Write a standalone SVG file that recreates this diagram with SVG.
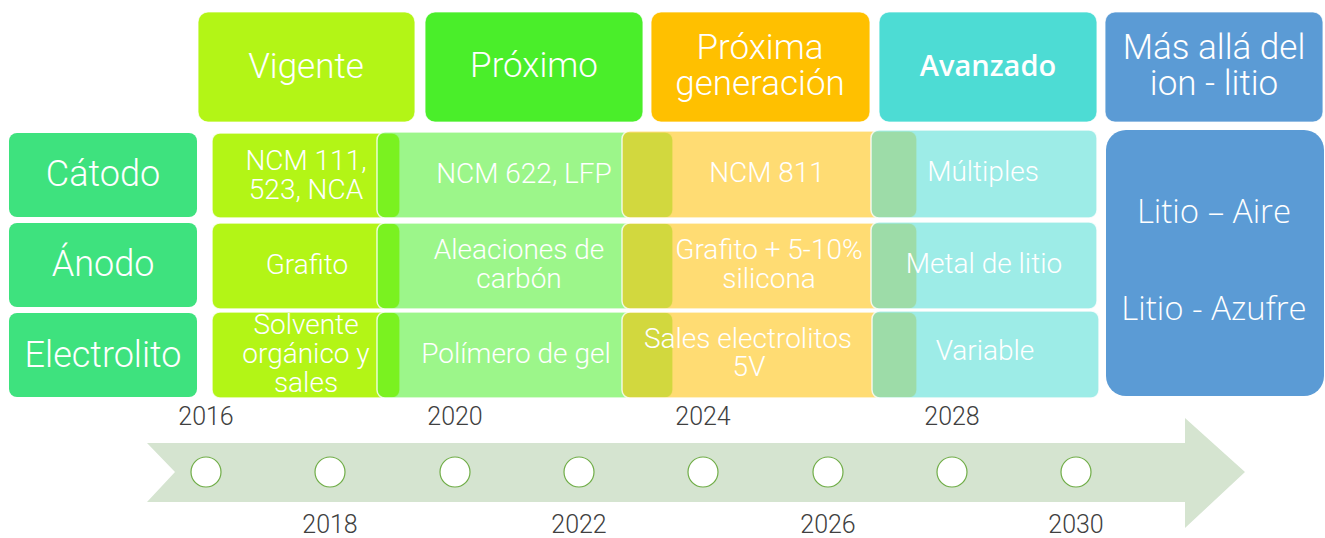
<svg xmlns="http://www.w3.org/2000/svg" width="1325" height="538" viewBox="0 0 1325 538">
<style>
.hdr{stroke:#ffffff;stroke-opacity:0.7;stroke-width:1.2}
.ht{font-family:Roboto,sans-serif;font-weight:300;font-size:35px;fill:#ffffff;text-anchor:middle}
.hb{font-family:"Open Sans",sans-serif;font-weight:600;font-size:29px;fill:#ffffff;text-anchor:middle}
.bt{font-family:"Open Sans",sans-serif;font-weight:300;font-size:33px;fill:#ffffff;text-anchor:middle}
.row{fill:#3ee27e}
.rt{font-family:Roboto,sans-serif;font-weight:300;font-size:36px;fill:#ffffff;text-anchor:middle}
.cell{stroke:#ffffff;stroke-opacity:0.8;stroke-width:1.5}
.c1{fill:#b3f516}
.c2{fill:#4aee2a;fill-opacity:0.55}
.c3{fill:#ffc000;fill-opacity:0.55}
.c4{fill:#4ddcd4;fill-opacity:0.55}
.ct{font-family:Roboto,sans-serif;font-weight:300;font-size:28px;fill:#ffffff;text-anchor:middle}
.yr{font-family:Roboto,sans-serif;font-weight:300;font-size:25px;fill:#404040;text-anchor:middle}
.dot{fill:#ffffff;stroke:#70ad47;stroke-width:1.2}
</style>

<g id="timeline">
<polygon points="147,443 1185,443 1185,418 1245,472 1185,528 1185,502 147,502 175,472" fill="#d5e4d0"/>
<circle class="dot" cx="206" cy="472" r="15"/>
<circle class="dot" cx="330" cy="472" r="15"/>
<circle class="dot" cx="455" cy="472" r="15"/>
<circle class="dot" cx="579" cy="472" r="15"/>
<circle class="dot" cx="703" cy="472" r="15"/>
<circle class="dot" cx="828" cy="472" r="15"/>
<circle class="dot" cx="952" cy="472" r="15"/>
<circle class="dot" cx="1076" cy="472" r="15"/>
<text class="yr" x="206" y="425">2016</text>
<text class="yr" x="455" y="425">2020</text>
<text class="yr" x="703" y="425">2024</text>
<text class="yr" x="952" y="425">2028</text>
<text class="yr" x="330" y="533">2018</text>
<text class="yr" x="579" y="533">2022</text>
<text class="yr" x="828" y="533">2026</text>
<text class="yr" x="1076" y="533">2030</text>
</g>

<g id="h-vigente"><rect class="hdr" x="198" y="12" width="217" height="110" rx="10" fill="#b3f516"/><text class="ht" x="306" y="78">Vigente</text></g>
<g id="h-proximo"><rect class="hdr" x="425" y="12" width="218" height="110" rx="10" fill="#4aee2a"/><text class="ht" x="534" y="77">Próximo</text></g>
<g id="h-proxgen"><rect class="hdr" x="651" y="12" width="219" height="110" rx="10" fill="#ffc000"/><text class="ht" x="760" y="59">Próxima</text><text class="ht" x="760" y="95">generación</text></g>
<g id="h-avanzado"><rect class="hdr" x="879" y="12" width="218" height="110" rx="10" fill="#4ddcd4"/><text class="hb" x="988" y="76">Avanzado</text></g>
<g id="h-mas"><rect class="hdr" x="1105" y="12" width="218" height="110" rx="10" fill="#5b9bd5"/><text class="ht" x="1214" y="59">Más allá del</text><text class="ht" x="1214" y="95">ion - litio</text></g>

<g id="r-catodo"><rect class="row" x="9" y="133" width="188" height="84" rx="8"/><text class="rt" x="103" y="186">Cátodo</text></g>
<g id="r-anodo"><rect class="row" x="9" y="223" width="188" height="84" rx="8"/><text class="rt" x="103" y="276">Ánodo</text></g>
<g id="r-electrolito"><rect class="row" x="9" y="313" width="188" height="84" rx="8"/><text class="rt" x="103" y="367">Electrolito</text></g>

<g id="c1-catodo"><rect class="cell c1" x="212" y="133" width="188" height="85" rx="8"/><text class="ct" x="306" y="170">NCM 111,</text><text class="ct" x="306" y="199">523, NCA</text></g>
<g id="c1-anodo"><rect class="cell c1" x="212" y="223" width="188" height="86" rx="8"/><text class="ct" x="307" y="274">Grafito</text></g>
<g id="c1-electrolito"><rect class="cell c1" x="212" y="312" width="188" height="86" rx="8"/><text class="ct" x="306" y="334">Solvente</text><text class="ct" x="306" y="363">orgánico y</text><text class="ct" x="306" y="392">sales</text></g>

<g id="c2-catodo"><rect class="cell c2" x="377" y="132" width="296" height="86" rx="8"/><text class="ct" x="524" y="183">NCM 622, LFP</text></g>
<g id="c2-anodo"><rect class="cell c2" x="377" y="223" width="296" height="86" rx="8"/><text class="ct" x="519" y="259">Aleaciones de</text><text class="ct" x="519" y="288">carbón</text></g>
<g id="c2-electrolito"><rect class="cell c2" x="377" y="312" width="296" height="86" rx="8"/><text class="ct" x="516" y="363">Polímero de gel</text></g>

<g id="c3-catodo"><rect class="cell c3" x="622" y="131" width="295" height="87" rx="8"/><text class="ct" x="767" y="182">NCM 811</text></g>
<g id="c3-anodo"><rect class="cell c3" x="622" y="223" width="295" height="86" rx="8"/><text class="ct" x="769" y="259">Grafito + 5-10%</text><text class="ct" x="769" y="288">silicona</text></g>
<g id="c3-electrolito"><rect class="cell c3" x="622" y="312" width="295" height="86" rx="8"/><text class="ct" x="748" y="348">Sales electrolitos</text><text class="ct" x="749" y="376">5V</text></g>

<g id="c4-catodo"><rect class="cell c4" x="871" y="130" width="226" height="88" rx="8"/><text class="ct" x="983" y="181">Múltiples</text></g>
<g id="c4-anodo"><rect class="cell c4" x="871" y="222" width="226" height="87" rx="8"/><text class="ct" x="984" y="273">Metal de litio</text></g>
<g id="c4-electrolito"><rect class="cell c4" x="872" y="311" width="227" height="87" rx="8"/><text class="ct" x="985" y="360">Variable</text></g>

<g id="beyond"><rect x="1106" y="130" width="218" height="266" rx="20" fill="#5b9bd5"/><text class="bt" x="1214" y="223">Litio – Aire</text><text class="bt" x="1214" y="320">Litio - Azufre</text></g>
</svg>
